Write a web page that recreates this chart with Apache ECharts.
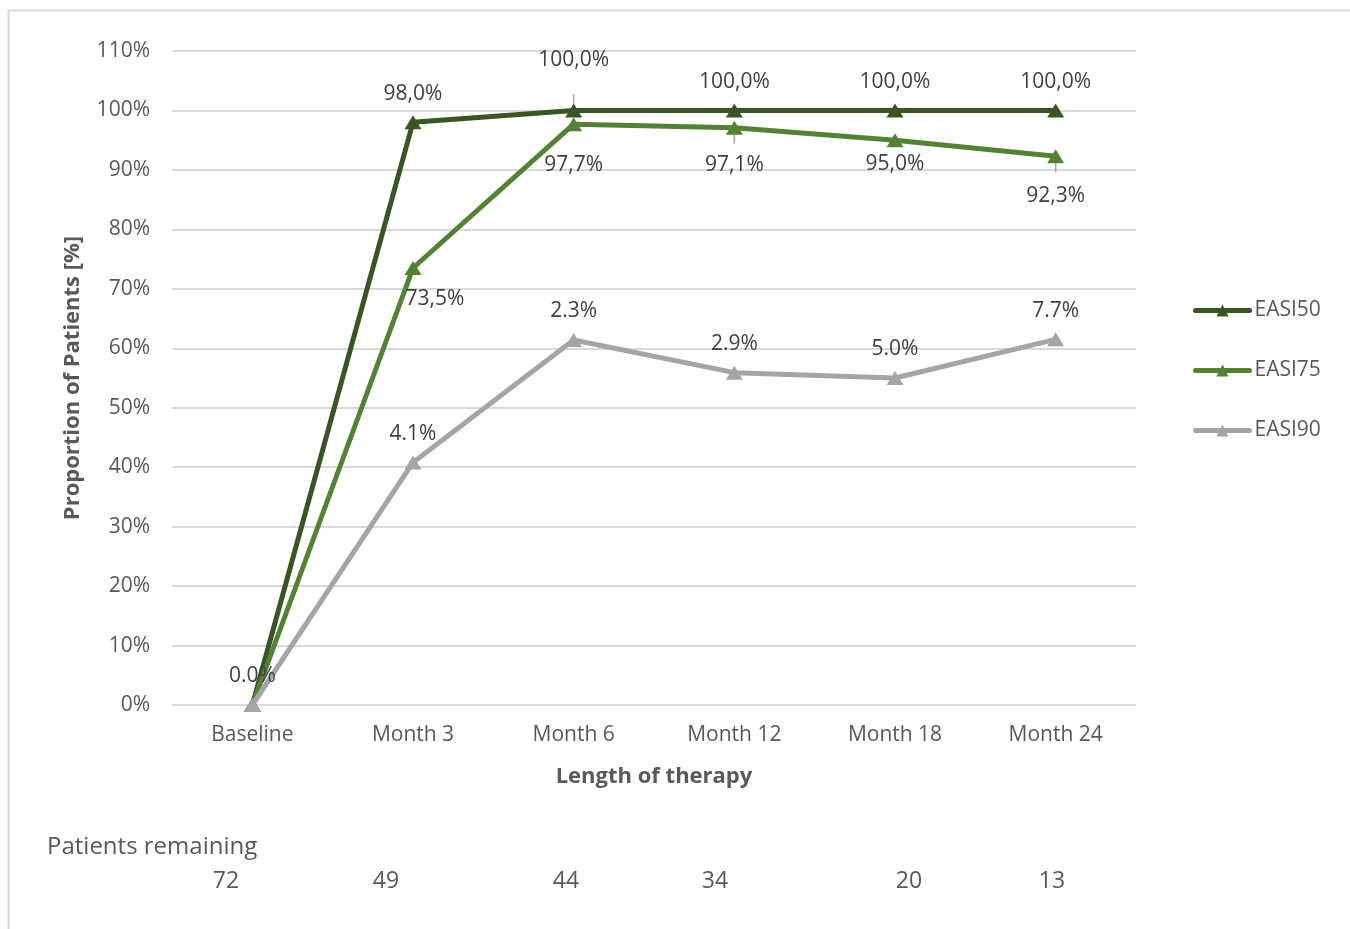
<!DOCTYPE html>
<html>
<head>
<meta charset="utf-8">
<script src="https://cdn.jsdelivr.net/npm/echarts@6/dist/echarts.min.js"></script>
<style>
  html, body { margin: 0; padding: 0; background: #fff; }
  #chart { width: 1350px; height: 929px; }
</style>
</head>
<body>
<div id="chart"></div>
<script>
// Time points of the follow-up
const categories = ['Baseline', 'Month 3', 'Month 6', 'Month 12', 'Month 18', 'Month 24'];

// Share of patients reaching each EASI response level (%)
const easi50 = [0, 98.0, 100.0, 100.0, 100.0, 100.0];
const easi75 = [0, 73.5, 97.7, 97.1, 95.0, 92.3];
const easi90 = [0, 40.8, 61.4, 55.9, 55.0, 61.5];

// Text printed above the EASI90 points
const easi90Labels = ['0.0%', '4.1%', '2.3%', '2.9%', '5.0%', '7.7%'];

// Patients still under therapy at each time point
const patientsRemaining = [72, 49, 44, 34, 20, 13];

const yTicks = { min: 0, max: 110, interval: 10 };

const FONT = 'Open Sans';
const TEXT = '#595959';
const LABEL = '#404040';
const GUIDE = '#A6A6A6';

const commaPct = v => v.toFixed(1).replace('.', ',') + '%';

function easi50Data() {
  return easi50.map((v, i) => {
    const item = { value: v };
    if (i === 0) item.label = { show: false };
    else if (i === 2) item.label = { distance: 33 };
    return item;
  });
}

function easi75Data() {
  const dist = [0, 14, 23, 20, 6, 22];
  return easi75.map((v, i) => {
    const item = { value: v };
    if (i === 0) {
      item.label = { show: false };
    } else {
      item.label = { position: 'bottom', distance: dist[i] };
      if (i === 1) item.label.offset = [22, 0];
    }
    return item;
  });
}

function easi90Data() {
  return easi90.map((v, i) => ({ value: v, labelText: easi90Labels[i] }));
}

// Short guide ticks joining a few labels to their points: [category, value, direction]
const guideData = [
  [2, easi50[2], -1],
  [3, easi75[3], 1],
  [5, easi75[5], 1]
];

const chart = echarts.init(document.getElementById('chart'), null, { renderer: 'canvas' });

// Patients-remaining row under the axis
const countX = [226, 386, 566, 715, 909, 1052];
const countTexts = patientsRemaining.map((n, i) => ({
  type: 'text',
  x: countX[i],
  y: 881,
  style: {
    text: String(n),
    fontFamily: FONT, fontSize: 23, fill: TEXT,
    align: 'center', verticalAlign: 'middle'
  }
}));

const baseLabel = {
  show: true,
  fontFamily: FONT,
  fontSize: 21,
  color: LABEL
};

chart.setOption({
  backgroundColor: '#ffffff',
  animation: false,
  textStyle: { fontFamily: FONT },
  grid: { left: 172, right: 214, top: 51, bottom: 224, containLabel: false },
  legend: {
    orient: 'vertical',
    left: 1188,
    top: 295,
    itemWidth: 54,
    itemHeight: 15,
    itemGap: 39,
    lineStyle: { width: 5, cap: 'round' },
    textStyle: { fontFamily: FONT, fontSize: 21, color: TEXT, padding: [0, 0, 0, 0] },
    data: ['EASI50', 'EASI75', 'EASI90']
  },
  xAxis: {
    type: 'category',
    data: categories,
    boundaryGap: true,
    name: 'Length of therapy',
    nameLocation: 'middle',
    nameGap: 61,
    nameTextStyle: { fontFamily: FONT, fontSize: 22, fontWeight: 'bold', color: TEXT },
    axisLine: { show: false },
    axisTick: { show: false },
    axisLabel: { fontFamily: FONT, fontSize: 21, color: TEXT, margin: 20 }
  },
  yAxis: {
    type: 'value',
    min: yTicks.min,
    max: yTicks.max,
    interval: yTicks.interval,
    name: 'Proportion of Patients [%]',
    nameLocation: 'middle',
    nameGap: 88,
    nameRotate: 90,
    nameTextStyle: { fontFamily: FONT, fontSize: 22, fontWeight: 'bold', color: TEXT },
    axisLine: { show: false },
    axisTick: { show: false },
    axisLabel: { fontFamily: FONT, fontSize: 21, color: TEXT, margin: 22, formatter: '{value}%' },
    splitLine: { lineStyle: { color: '#D9D9D9', width: 2 } }
  },
  series: [
    {
      name: 'EASI50',
      type: 'line',
      data: easi50Data(),
      symbol: 'triangle',
      symbolSize: [17, 14],
      lineStyle: { color: '#375623', width: 5 },
      itemStyle: { color: '#375623' },
      label: Object.assign({}, baseLabel, {
        position: 'top', distance: 11,
        formatter: p => commaPct(p.value)
      }),
      z: 2
    },
    {
      name: 'EASI75',
      type: 'line',
      data: easi75Data(),
      symbol: 'triangle',
      symbolSize: [17, 14],
      lineStyle: { color: '#548235', width: 5 },
      itemStyle: { color: '#548235' },
      label: Object.assign({}, baseLabel, {
        position: 'bottom',
        formatter: p => commaPct(p.value)
      }),
      z: 3
    },
    {
      name: 'EASI90',
      type: 'line',
      data: easi90Data(),
      symbol: 'triangle',
      symbolSize: [17, 14],
      lineStyle: { color: '#A5A5A5', width: 5 },
      itemStyle: { color: '#A5A5A5' },
      label: Object.assign({}, baseLabel, {
        position: 'top', distance: 11,
        formatter: p => p.data.labelText
      }),
      z: 4
    },
    {
      name: 'guides',
      type: 'custom',
      data: guideData,
      silent: true,
      z: 1,
      renderItem: (params, api) => {
        const p = api.coord([api.value(0), api.value(1)]);
        const dir = api.value(2);
        return {
          type: 'line',
          shape: { x1: p[0], y1: p[1], x2: p[0], y2: p[1] + dir * 16 },
          style: { stroke: GUIDE, lineWidth: 1.5 }
        };
      }
    }
  ],
  graphic: [
    // light frame along the top and left edges
    { type: 'line', shape: { x1: 8, y1: 10.5, x2: 1350, y2: 10.5 }, style: { stroke: '#D9D9D9', lineWidth: 2 }, silent: true },
    { type: 'line', shape: { x1: 8.5, y1: 10, x2: 8.5, y2: 929 }, style: { stroke: '#D9D9D9', lineWidth: 2 }, silent: true },
    {
      type: 'text',
      x: 47,
      y: 847,
      style: {
        text: 'Patients remaining',
        fontFamily: FONT, fontSize: 24, fill: TEXT,
        align: 'left', verticalAlign: 'middle'
      }
    }
  ].concat(countTexts)
});
</script>
</body>
</html>
